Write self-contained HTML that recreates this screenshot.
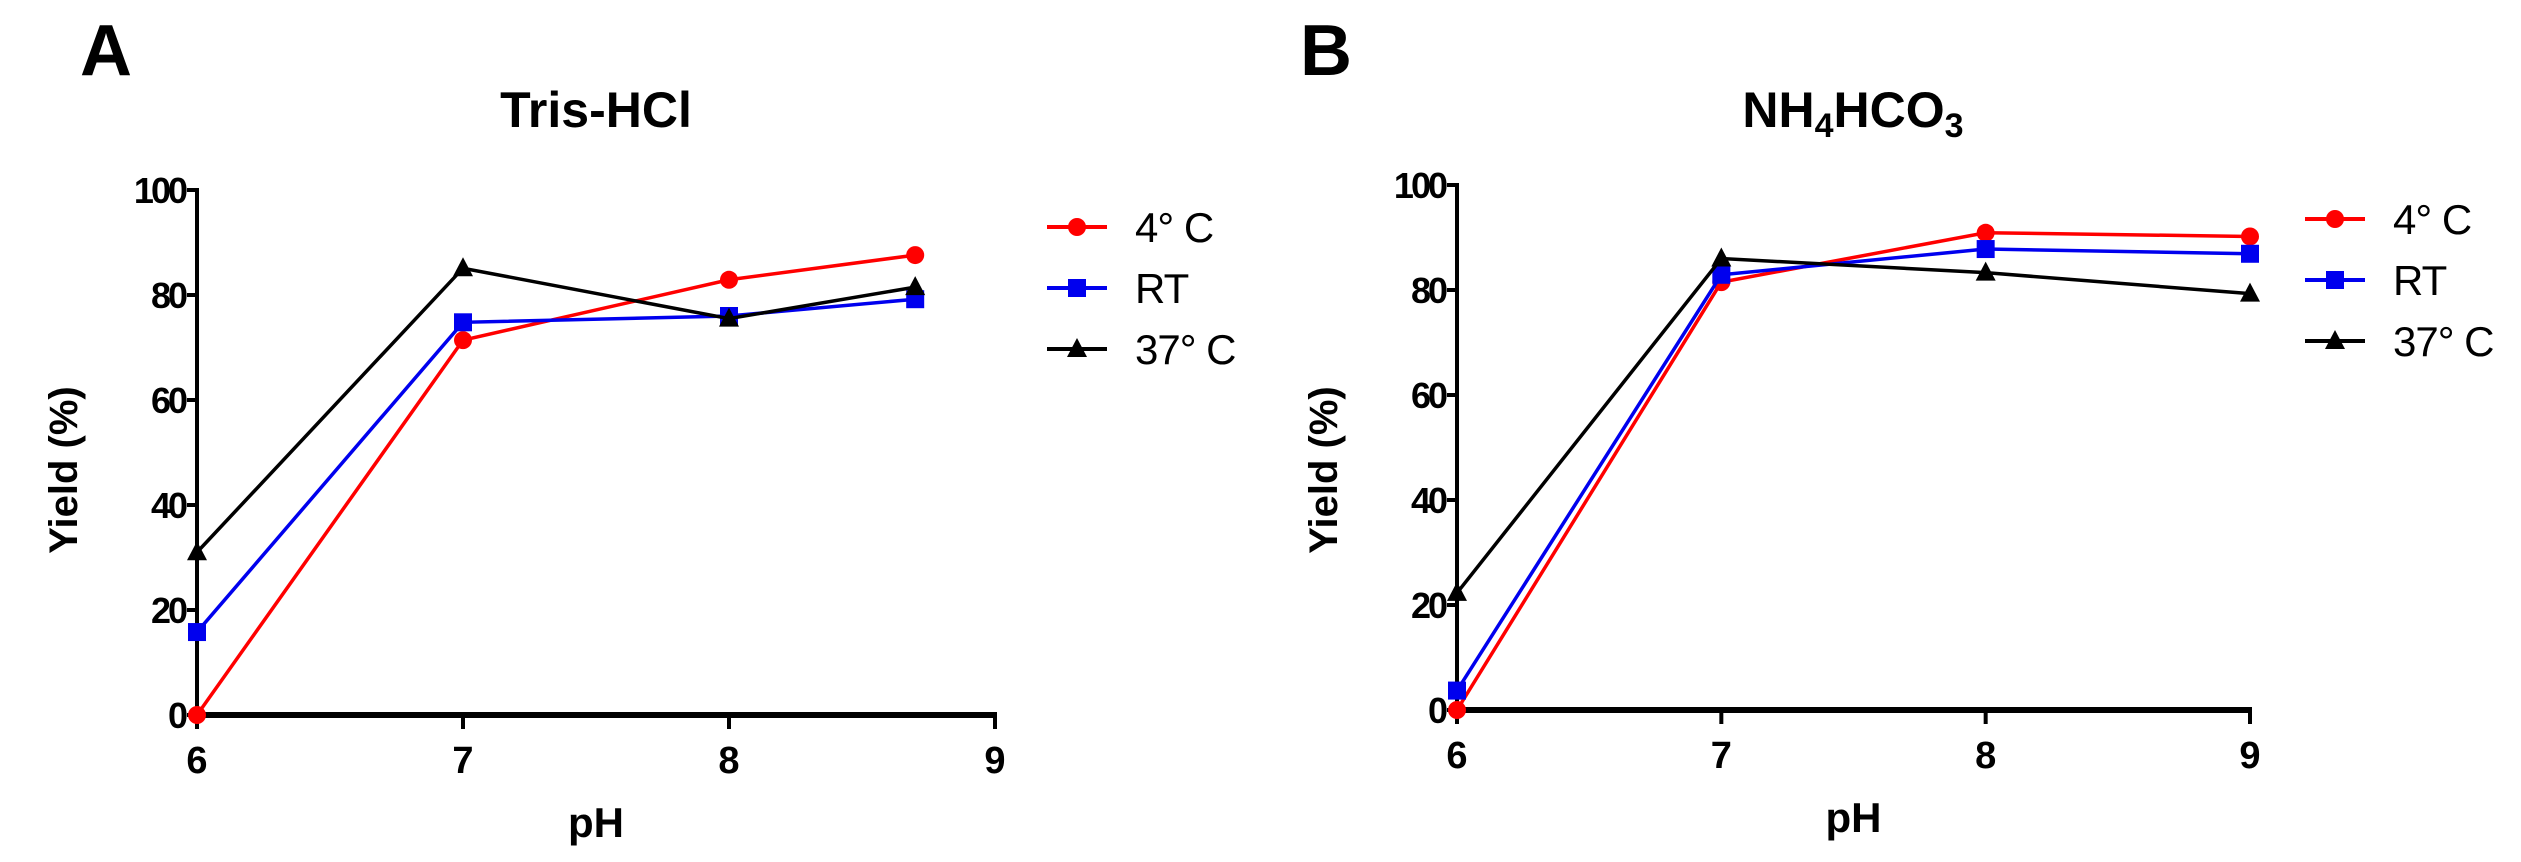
<!DOCTYPE html>
<html><head><meta charset="utf-8"><style>
html,body{margin:0;padding:0;background:#fff;}
svg{display:block;font-family:"Liberation Sans",Arial,sans-serif;}
</style></head><body>
<svg id="fig" width="2521" height="862" viewBox="0 0 2521 862">
<text x="80" y="75" font-size="72" font-weight="bold">A</text>
<text x="1300" y="75" font-size="72" font-weight="bold">B</text>
<text x="596" y="127" font-size="50" font-weight="bold" text-anchor="middle">Tris-HCl</text>
<text x="1853" y="127" font-size="50" font-weight="bold" text-anchor="middle">NH<tspan font-size="34" dy="10">4</tspan><tspan dy="-10">HCO</tspan><tspan font-size="34" dy="10">3</tspan></text>
</svg>
<script>
const categoriesA = [6, 7, 8, 8.7];
const seriesA4C = [0, 71.4, 82.9, 87.6];
const seriesART = [15.8, 74.8, 76, 79.2];
const seriesA37C = [31, 85.1, 75.5, 81.5];
const categoriesB = [6, 7, 8, 9];
const seriesB4C = [0, 81.5, 90.9, 90.2];
const seriesBRT = [3.7, 82.9, 87.8, 86.9];
const seriesB37C = [22.3, 86, 83.3, 79.3];
const yTicks = [0, 20, 40, 60, 80, 100];
const xTicks = [6, 7, 8, 9];
const legendLabels = ["4\u00b0 C", "RT", "37\u00b0 C"];

const NS = "http://www.w3.org/2000/svg";
const svg = document.getElementById('fig');
function mk(tag, attrs, parent) {
  const e = document.createElementNS(NS, tag);
  for (const k in attrs) e.setAttribute(k, attrs[k]);
  (parent || svg).appendChild(e);
  return e;
}
const colors = ["#ff0000", "#0000ee", "#000000"];
const shapes = ["circle", "square", "triangle"];

function marker(g, shape, x, y, color) {
  let m;
  if (shape === "circle") m = mk('circle', {cx: x, cy: y, r: 9, fill: color}, g);
  else if (shape === "square") m = mk('rect', {x: x - 9, y: y - 9, width: 18, height: 18, fill: color}, g);
  else m = mk('polygon', {points: `${x},${y - 11} ${x - 10},${y + 8} ${x + 10},${y + 8}`, fill: color}, g);
  return m;
}

function panel(id, x0, x1, y0, y100, cats, series, legX, legY) {
  const xS = v => x0 + (v - 6) / 3 * (x1 - x0);
  const yS = v => y0 - v / 100 * (y0 - y100);
  const g = mk('g', {});
  
  
  // axes
  const ya = mk('line', {x1: x0, y1: y100 - 2, x2: x0, y2: y0, stroke: '#000', 'stroke-width': 4}, g);
  
  
  const xa = mk('line', {x1: x0 - 2, y1: y0, x2: x1 + 2, y2: y0, stroke: '#000', 'stroke-width': 6}, g);
  
  
  yTicks.forEach(t => {
    const y = yS(t);
    mk('line', {x1: x0 - 10, y1: y, x2: x0, y2: y, stroke: '#000', 'stroke-width': 4}, g);
    const tx = mk('text', {x: x0 - 12, y: y + 13, 'font-size': 36, 'font-weight': 'bold', 'text-anchor': 'end', 'letter-spacing': -3}, g);
    tx.textContent = t;
    
    
  });
  xTicks.forEach(t => {
    const x = xS(t);
    mk('line', {x1: x, y1: y0, x2: x, y2: y0 + 14, stroke: '#000', 'stroke-width': 4}, g);
    const tx = mk('text', {x: x, y: y0 + 58, 'font-size': 38, 'font-weight': 'bold', 'text-anchor': 'middle'}, g);
    tx.textContent = t;
    
    
  });
  const xt = mk('text', {x: (x0 + x1) / 2, y: y0 + 122, 'font-size': 42, 'font-weight': 'bold', 'text-anchor': 'middle'}, g);
  xt.textContent = 'pH';
  
  
  const cy = 470, cx = x0 - 120;
  const yt = mk('text', {x: cx, y: cy, 'font-size': 40, 'font-weight': 'bold', 'text-anchor': 'middle', transform: `rotate(-90 ${cx} ${cy})`}, g);
  yt.textContent = 'Yield (%)';
  
  
  // series (draw black last? order: red, blue, black)
  series.forEach((vals, si) => {
    const sg = mk('g', {}, g);
    
    
    const pts = vals.map((v, i) => xS(cats[i]) + ',' + yS(v)).join(' ');
    const pl = mk('polyline', {points: pts, fill: 'none', stroke: colors[si], 'stroke-width': 3.5}, sg);
    
    
    vals.forEach((v, i) => {
      const m = marker(sg, shapes[si], xS(cats[i]), yS(v), colors[si]);
      
      
    });
  });
  // legend
  legendLabels.forEach((lab, i) => {
    const ly = legY + i * 61;
    const lg = mk('g', {}, g);
    
    
    mk('line', {x1: legX, y1: ly, x2: legX + 60, y2: ly, stroke: colors[i], 'stroke-width': 4}, lg);
    marker(lg, shapes[i], legX + 30, ly, colors[i]);
    const t = mk('text', {x: legX + 88, y: ly + 15, 'font-size': 42, 'letter-spacing': -1}, lg);
    t.textContent = lab;
  });
}
panel('a', 197, 995, 715, 190, categoriesA, [seriesA4C, seriesART, seriesA37C], 1047, 227);
panel('b', 1457, 2250, 710, 185, categoriesB, [seriesB4C, seriesBRT, seriesB37C], 2305, 219);
</script>
</body></html>
